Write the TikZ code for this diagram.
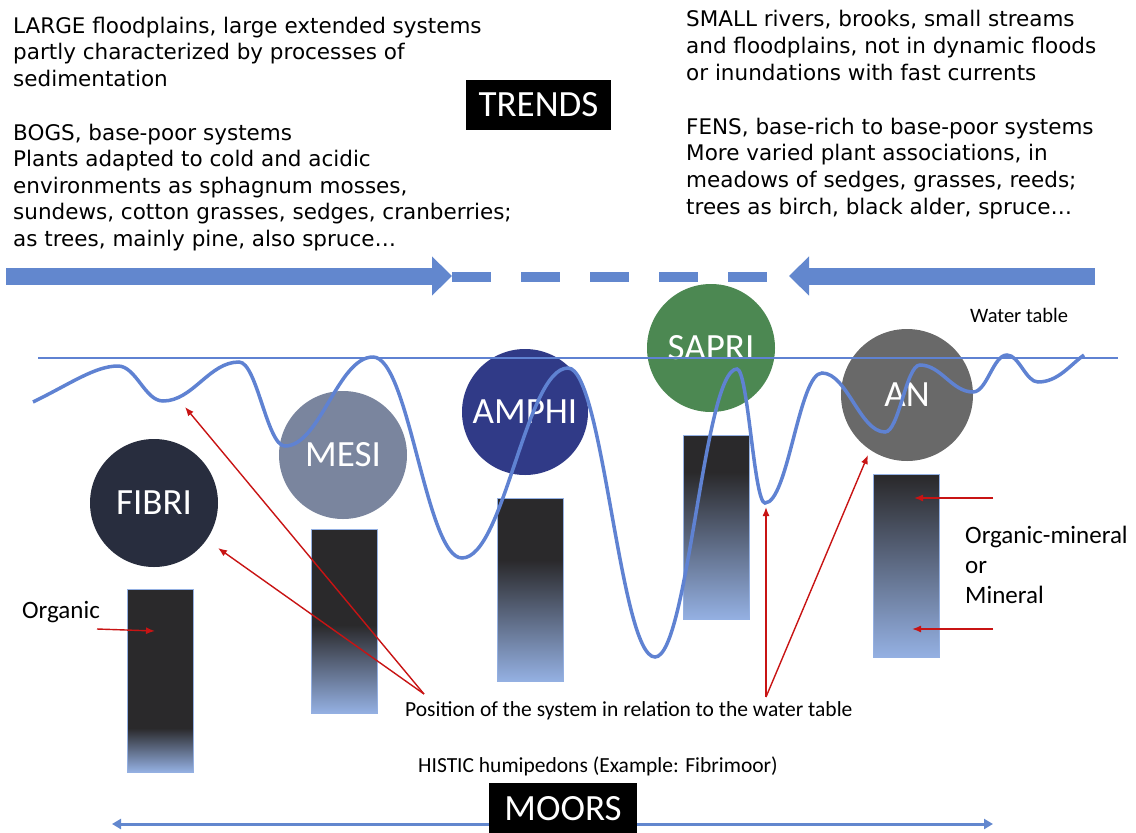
\documentclass[tikz,border=0pt]{standalone}
\usepackage{fontspec}
\newfontfamily\lucida{DejaVu Sans}
\newfontfamily\calibri{Carlito}
\usepackage{tikz}
\usetikzlibrary{arrows.meta}

\definecolor{trendblue}{RGB}{98,135,206}
\definecolor{waveblue}{RGB}{95,130,210}
\definecolor{arrowred}{RGB}{200,20,20}
\definecolor{bardark}{RGB}{42,41,43}
\definecolor{barblue}{RGB}{148,176,226}
\definecolor{fibricol}{RGB}{40,45,62}
\definecolor{mesicol}{RGB}{122,133,158}
\definecolor{amphicol}{RGB}{48,58,135}
\definecolor{sapricol}{RGB}{76,136,82}
\definecolor{ancol}{RGB}{105,105,105}

\tikzset{
  humus/.style={circle,minimum size=128pt,inner sep=0pt,text=white,font=\calibri\fontsize{37}{40}\selectfont},
  blackbox/.style={fill=black,text=white,inner sep=0pt,font=\calibri\fontsize{37}{40}\selectfont},
  trendtext/.style={anchor=base west,align=left,inner sep=0pt,font=\lucida\fontsize{21.5}{26.6}\selectfont},
  note/.style={anchor=base west,inner sep=0pt,font=\calibri\fontsize{21.5}{26}\selectfont},
  pointer/.style={draw=arrowred,line width=1.4pt,-{Latex[length=9pt,width=7pt]}},
}

\begin{document}
\begin{tikzpicture}[x=1pt,y=-1pt]
  \useasboundingbox (0,0) rectangle (1136,833);

  % base anchor sits on the last line
  \node[trendtext] (large) at (13,86.2) {LARGE floodplains, large extended systems\\partly characterized by processes of\\sedimentation};
  \node[trendtext] (bogs) at (13,246.4) {BOGS, base-poor systems\\Plants adapted to cold and acidic\\environments as sphagnum mosses,\\sundews, cotton grasses, sedges, cranberries;\\as trees, mainly pine, also spruce…};
  \node[trendtext] (small) at (686,80) {SMALL rivers, brooks, small streams\\and floodplains, not in dynamic floods\\or inundations with fast currents};
  \node[trendtext] (fens) at (686,214) {FENS, base-rich to base-poor systems\\More varied plant associations, in\\meadows of sedges, grasses, reeds;\\trees as birch, black alder, spruce…};
  \node[blackbox,minimum width=145pt,minimum height=50pt] (trends) at (538.5,105) {TRENDS};

  \coordinate (lefttail) at (6,276);
  \coordinate (lefttip) at (452,276);
  \coordinate (righttail) at (1095,276);
  \coordinate (righttip) at (789,276);
  \draw[trendblue,line width=17pt,-{Triangle[length=20pt,width=38pt]}] (lefttail) -- (lefttip);
  \draw[trendblue,line width=17pt,-{Triangle[length=20pt,width=38pt]}] (righttail) -- (righttip);
  \draw[trendblue,line width=10pt,dash pattern=on 39pt off 30pt] (452,277) -- (767,277);

  \foreach \xl/\yt/\ym/\yb in {127/589/728/772,311/529/625/713,497/498/560/681,683/435/472/619,873/474/476/657}{
    \fill[bardark] (\xl,\yt) rectangle (\xl+66,\ym);
    \shade[top color=bardark,bottom color=barblue] (\xl,\ym) rectangle (\xl+66,\yb);
    \draw[barblue,line width=0.6pt] (\xl,\yt) rectangle (\xl+66,\yb);
  }

  \node[humus,fill=fibricol] (fibri) at (154,503) {FIBRI};
  \node[humus,fill=mesicol] (mesi) at (343,455) {MESI};
  \node[humus,fill=amphicol,minimum size=126pt] (amphi) at (525,412) {AMPHI};
  \node[humus,fill=sapricol] (sapri) at (711,348) {SAPRI};
  \node[humus,fill=ancol,minimum size=132pt] (an) at (907,395) {AN};

  \draw[waveblue,line width=1.2pt] (38,358) -- (1118,358);
  \node[note,font=\calibri\fontsize{20.5}{24}\selectfont] (water) at (970,322) {Water table};
  \draw[waveblue,line width=3.5pt] (33,402) .. controls (70,384) and (95,366) .. (118,366)
    .. controls +(18,0) and +(-18,0) .. (163,401)
    .. controls +(30,0) and +(-30,0) .. (239,362)
    .. controls +(18,0) and +(-18,0) .. (285,446)
    .. controls +(35,0) and +(-35,0) .. (373,357)
    .. controls +(36,0) and +(-36,0) .. (462,558)
    .. controls +(42,0) and +(-42,0) .. (568,368)
    .. controls +(35,0) and +(-35,0) .. (655,657)
    .. controls +(33,0) and +(-33,0) .. (737,369)
    .. controls +(11,0) and +(-11,0) .. (765,503)
    .. controls +(23,0) and +(-23,0) .. (822,373)
    .. controls +(25,0) and +(-25,0) .. (885,432)
    .. controls +(14,0) and +(-14,0) .. (920,365)
    .. controls +(21,0) and +(-21,0) .. (973,392)
    .. controls +(14,0) and +(-14,0) .. (1007,355)
    .. controls +(12,0) and +(-12,0) .. (1038,382)
    .. controls (1058,382) and (1070,365) .. (1084,355);

  \node[note,font=\calibri\fontsize{25}{30}\selectfont] (organic) at (22,618) {Organic};
  \node[note,align=left,font=\calibri\fontsize{25}{30}\selectfont] (mineral) at (965,603) {Organic-mineral\\or\\Mineral};
  \node[note] (pos) at (405,716) {Position of the system in relation to the water table};
  \node[note] (histic) at (418,772) {HISTIC humipedons (Example: Fibrimoor)};

  \coordinate (posleft) at (424,694);
  \coordinate (posright) at (766,697);
  \coordinate (fibridip) at (185,407);
  \coordinate (fibriedge) at (218,548);
  \coordinate (sapridip) at (766,507);
  \coordinate (anedge) at (868,455);
  \coordinate (orgfrom) at (97,629);
  \coordinate (orgto) at (155,631);
  \coordinate (minfromtop) at (993,498);
  \coordinate (mintotop) at (914,498);
  \coordinate (minfrombot) at (993,629);
  \coordinate (mintobot) at (912,629);
  \draw[pointer] (posleft) -- (fibridip);
  \draw[pointer] (posleft) -- (fibriedge);
  \draw[pointer] (posright) -- (sapridip);
  \draw[pointer] (posright) -- (anedge);
  \draw[pointer] (orgfrom) -- (orgto);
  \draw[pointer] (minfromtop) -- (mintotop);
  \draw[pointer] (minfrombot) -- (mintobot);

  \coordinate (moorsleft) at (112,824);
  \coordinate (moorsright) at (993,824);
  \draw[trendblue,line width=3pt,{Triangle[length=9pt,width=10pt]}-{Triangle[length=9pt,width=10pt]}] (moorsleft) -- (moorsright);
  \node[blackbox,minimum width=148pt,minimum height=52pt] (moors) at (563,809) {MOORS};
\end{tikzpicture}
\end{document}
